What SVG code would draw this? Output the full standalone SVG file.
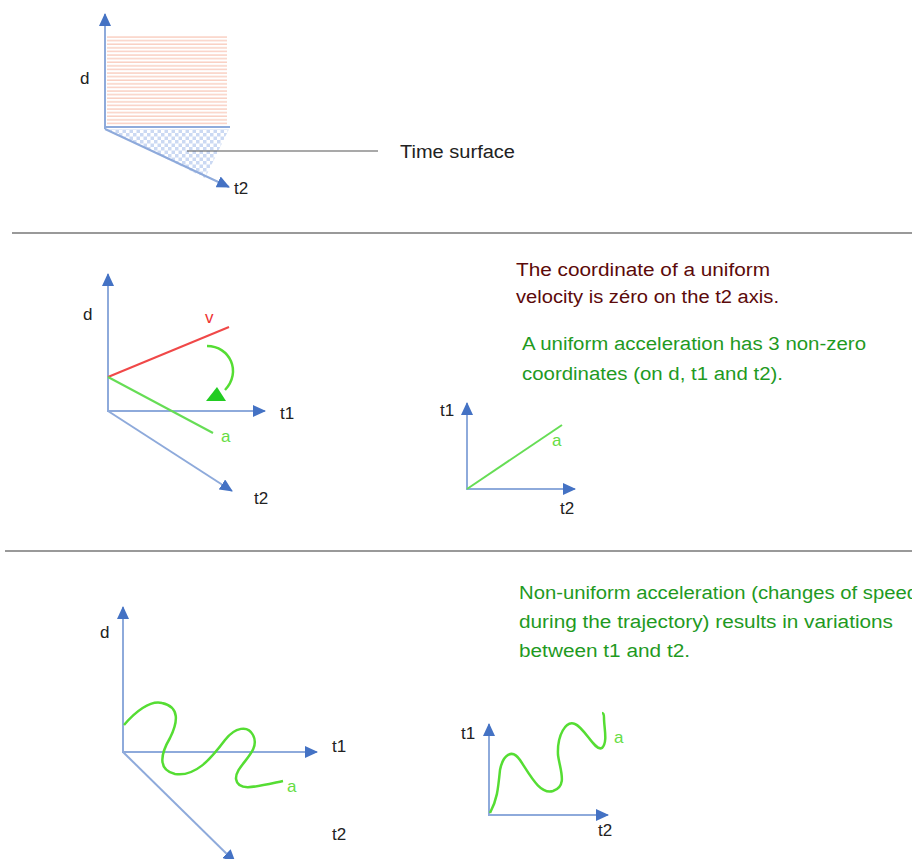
<svg xmlns="http://www.w3.org/2000/svg" width="912" height="859" viewBox="0 0 912 859">
<style>
.ax{stroke:#8eaadb;stroke-width:2;fill:none}
.lbl{font-family:"Liberation Sans",Arial,sans-serif;font-size:17px;fill:#222}
.txt{font-family:"Liberation Sans",Arial,sans-serif;font-size:18px}
.red{fill:#5c0a0a}
.grn{fill:#1f9a1f}
.ga{font-family:"Liberation Sans",Arial,sans-serif;font-size:17px;fill:#66dd44}
.curve{stroke:#55dd33;stroke-width:2.5;fill:none}
.sep{stroke:#777;stroke-width:1.5}
</style>
<defs>
<marker id="arr" markerUnits="userSpaceOnUse" markerWidth="14" markerHeight="12" refX="12" refY="6" orient="auto">
<path d="M0,0 L13,6 L0,12 Z" fill="#4472c4"/>
</marker>
<pattern id="hatch" width="6" height="3.6" patternUnits="userSpaceOnUse">
<rect width="6" height="3.6" fill="#fff"/>
<line x1="0" y1="1" x2="6" y2="1" stroke="#f6b9a6" stroke-width="1"/>
</pattern>
<pattern id="check" width="7" height="7" patternUnits="userSpaceOnUse">
<rect width="7" height="7" fill="#fff"/>
<rect width="3.5" height="3.5" fill="#cbd9f3"/>
<rect x="3.5" y="3.5" width="3.5" height="3.5" fill="#cbd9f3"/>
</pattern>
</defs>

<g id="panel1">
<rect x="107" y="35" width="120" height="90" fill="url(#hatch)"/>
<polygon points="107,129 229,129 205,178" fill="url(#check)"/>
<line class="ax" x1="105" y1="129" x2="105" y2="14" marker-end="url(#arr)"/>
<line class="ax" x1="105" y1="127" x2="230" y2="127"/>
<line class="ax" x1="105" y1="129" x2="229" y2="187" marker-end="url(#arr)"/>
<line x1="187" y1="151" x2="378" y2="151" stroke="#555" stroke-width="1.2"/>
<text class="lbl" x="80" y="84">d</text>
<text class="lbl" x="234" y="194">t2</text>
<text class="txt" x="400" y="158" fill="#222" textLength="115" lengthAdjust="spacingAndGlyphs">Time surface</text>
</g>

<g id="connectors">
<line class="sep" x1="12" y1="233" x2="912" y2="233"/>
<line class="sep" x1="5" y1="551" x2="912" y2="551"/>
</g>

<g id="panel2">
<line class="ax" x1="108" y1="412" x2="108" y2="274" marker-end="url(#arr)"/>
<line class="ax" x1="108" y1="411" x2="265" y2="411" marker-end="url(#arr)"/>
<line class="ax" x1="108" y1="411" x2="232" y2="491" marker-end="url(#arr)"/>
<line x1="108" y1="377" x2="229" y2="327" stroke="#f04848" stroke-width="2"/>
<line x1="108" y1="377" x2="213" y2="433" stroke="#66dd55" stroke-width="2"/>
<path d="M207,346 C230,346 242,372 225,390" class="curve" stroke-width="2.2"/>
<polygon points="206,401 226,401 217,387" fill="#22cc22"/>
<text class="lbl" x="83" y="320">d</text>
<text x="205" y="323" font-family="Liberation Sans,Arial,sans-serif" font-size="17" fill="#ee3333">v</text>
<text class="lbl" x="280" y="419">t1</text>
<text class="ga" x="221" y="442">a</text>
<text class="lbl" x="254" y="504">t2</text>
</g>

<g id="panel2b">
<line class="ax" x1="467" y1="490" x2="467" y2="403" marker-end="url(#arr)"/>
<line class="ax" x1="467" y1="489" x2="575" y2="489" marker-end="url(#arr)"/>
<line x1="467" y1="489" x2="562" y2="425" stroke="#66dd55" stroke-width="2"/>
<text class="lbl" x="440" y="416">t1</text>
<text class="lbl" x="560" y="514">t2</text>
<text class="ga" x="552" y="446">a</text>
</g>

<g id="text2">
<text class="txt red" x="516" y="276" textLength="254" lengthAdjust="spacingAndGlyphs">The coordinate of a uniform</text>
<text class="txt red" x="516" y="303" textLength="263" lengthAdjust="spacingAndGlyphs">velocity is zéro on the t2 axis.</text>
<text class="txt grn" x="522" y="350" textLength="344" lengthAdjust="spacingAndGlyphs">A uniform acceleration has 3 non-zero</text>
<text class="txt grn" x="522" y="380" textLength="261" lengthAdjust="spacingAndGlyphs">coordinates (on d, t1 and t2).</text>
</g>

<g id="panel3">
<line class="ax" x1="123" y1="753" x2="123" y2="607" marker-end="url(#arr)"/>
<line class="ax" x1="123" y1="752" x2="317" y2="752" marker-end="url(#arr)"/>
<line class="ax" x1="123" y1="752" x2="235" y2="862" marker-end="url(#arr)"/>
<path class="curve" d="M124,725 C135,712 150,700 162,703 C180,707 178,722 170,738 C160,755 158,770 175,774 C195,777 210,760 225,740 C235,727 248,725 253,735 C262,752 235,765 236,779 C238,792 255,787 283,781"/>
<text class="lbl" x="100" y="638">d</text>
<text class="lbl" x="332" y="752">t1</text>
<text class="ga" x="287" y="792">a</text>
<text class="lbl" x="332" y="840">t2</text>
</g>

<g id="panel3b">
<line class="ax" x1="489" y1="816" x2="489" y2="724" marker-end="url(#arr)"/>
<line class="ax" x1="489" y1="815" x2="608" y2="815" marker-end="url(#arr)"/>
<path class="curve" d="M490,813 C497,800 498,790 500,770 C503,755 512,748 520,760 C530,775 540,795 553,791 C568,786 560,770 558,755 C557,735 566,720 575,724 C585,728 595,752 602,748 C608,742 604,728 604,718 C604,714 603,713 602,713"/>
<text class="lbl" x="461" y="739">t1</text>
<text class="lbl" x="598" y="836">t2</text>
<text class="ga" x="614" y="743">a</text>
</g>

<g id="text3">
<text class="txt grn" x="519" y="599" textLength="399" lengthAdjust="spacingAndGlyphs">Non-uniform acceleration (changes of speed</text>
<text class="txt grn" x="519" y="628" textLength="374" lengthAdjust="spacingAndGlyphs">during the trajectory) results in variations</text>
<text class="txt grn" x="519" y="657" textLength="171" lengthAdjust="spacingAndGlyphs">between t1 and t2.</text>
</g>
</svg>
